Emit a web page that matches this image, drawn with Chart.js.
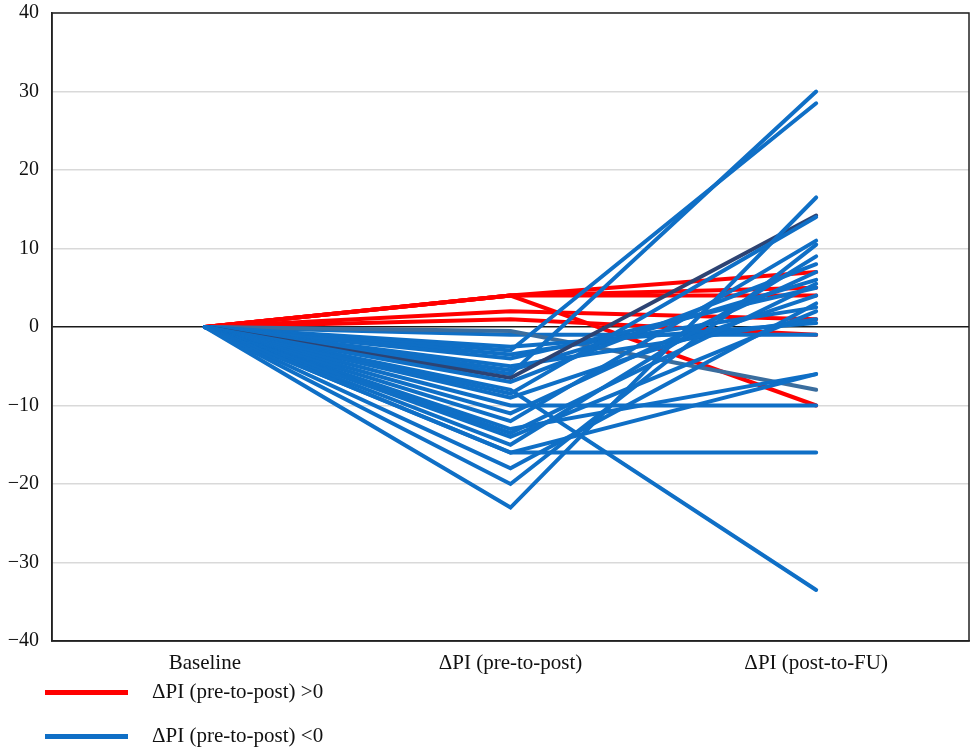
<!DOCTYPE html>
<html>
<head>
<meta charset="utf-8">
<script src="https://cdn.jsdelivr.net/npm/chart.js@4"></script>
<style>
  html, body { margin: 0; padding: 0; background: #fff; }
  #wrap { position: relative; width: 971px; height: 752px; }
  canvas { position: absolute; left: 0; top: 0; }
  .lg-line { position: absolute; left: 45px; width: 83px; height: 5px; }
  .lg-text { position: absolute; left: 152px; font-family: "Liberation Serif", "Times New Roman", serif; font-size: 21px; line-height: 24px; color: #111; white-space: nowrap; }
</style>
</head>
<body>
<div id="wrap">
  <canvas id="chart" width="971" height="752"></canvas>
  <div class="lg-line" style="top:690px;background:#ff0000"></div>
  <div class="lg-text" style="top:679px">ΔPI (pre-to-post) &gt;0</div>
  <div class="lg-line" style="top:734px;background:#0f6fc6"></div>
  <div class="lg-text" style="top:723px">ΔPI (pre-to-post) &lt;0</div>
</div>
<script>
// ---- data ----
const categories = ['Baseline', 'ΔPI (pre-to-post)', 'ΔPI (post-to-FU)'];
const baselineValue = 0;
const yTicks = [-40, -30, -20, -10, 0, 10, 20, 30, 40];

// participants whose ΔPI (pre-to-post) > 0
const increasedPre = [4, 4, 4, 4, 2, 1];
const increasedFU  = [7, 4, -10, 5, 1, -1];

// participants whose ΔPI (pre-to-post) < 0
const decreasedPre = [-23, -20, -18, -16, -16, -15, -14, -13.5, -13, -12, -11, -10, -9, -8.5, -8, -7, -6.5, -6, -5.5, -5, -4, -3.5, -3, -2.5, -0.5, -1];
const decreasedFU  = [16.5, 10.5, 3, -16, -6, 9, 2, 5.5, -6, 11, 7, -10, 4, 14, -33.5, 8, 14.2, 30, 6, 1, 5, 2.5, 28.5, 0.5, -8, -1];

// ---- styles ----
const RED = '#ff0000';
const BLUE = '#0f6fc6';
const accentColors = { 16: '#2d4373', 24: '#3a6d9e' };
const FONT = '"Liberation Serif", "Times New Roman", serif';

const datasets = [];
increasedPre.forEach((p, i) => {
  datasets.push({
    data: [baselineValue, p, increasedFU[i]],
    borderColor: RED, order: 2
  });
});
decreasedPre.forEach((p, i) => {
  datasets.push({
    data: [baselineValue, p, decreasedFU[i]],
    borderColor: accentColors[i] || BLUE, order: 1
  });
});

const framePlugin = {
  id: 'frame',
  beforeDatasetsDraw(chart) {
    const a = chart.chartArea, ctx = chart.ctx;
    ctx.save();
    ctx.strokeStyle = '#222';
    ctx.lineWidth = 1.5;
    ctx.strokeRect(a.left, a.top, a.right - a.left, a.bottom - a.top);
    ctx.restore();
  }
};

new Chart(document.getElementById('chart'), {
  type: 'line',
  data: { labels: categories, datasets },
  options: {
    responsive: false,
    animation: false,
    devicePixelRatio: 1,
    layout: { padding: { top: 13, right: 2, left: 0, bottom: 0 } },
    elements: {
      line: { borderWidth: 4, tension: 0, borderCapStyle: 'round', borderJoinStyle: 'miter', fill: false },
      point: { radius: 0, hoverRadius: 0 }
    },
    plugins: { legend: { display: false }, tooltip: { enabled: false } },
    scales: {
      x: {
        offset: true,
        grid: { display: false, drawTicks: false },
        border: { display: true, color: '#222', width: 1.5 },
        ticks: { color: '#111', font: { family: FONT, size: 21 }, padding: 10, maxRotation: 0 },
        afterFit(scale) { scale.height = 111; }
      },
      y: {
        min: -40, max: 40,
        afterBuildTicks(scale) { scale.ticks = yTicks.map(v => ({ value: v })); },
        grid: {
          drawTicks: false,
          color: c => (c.tick && c.tick.value === 0) ? '#1a1a1a' : '#d9d9d9',
          lineWidth: 1.5
        },
        border: { display: true, color: '#222', width: 1.5 },
        ticks: {
          color: '#111', font: { family: FONT, size: 20 }, padding: 13,
          callback: v => String(v).replace('-', '\u2212')
        },
        afterFit(scale) { scale.width = 52; scale.paddingTop = 0; scale.paddingBottom = 0; }
      }
    }
  },
  plugins: [framePlugin]
});
</script>
</body>
</html>
